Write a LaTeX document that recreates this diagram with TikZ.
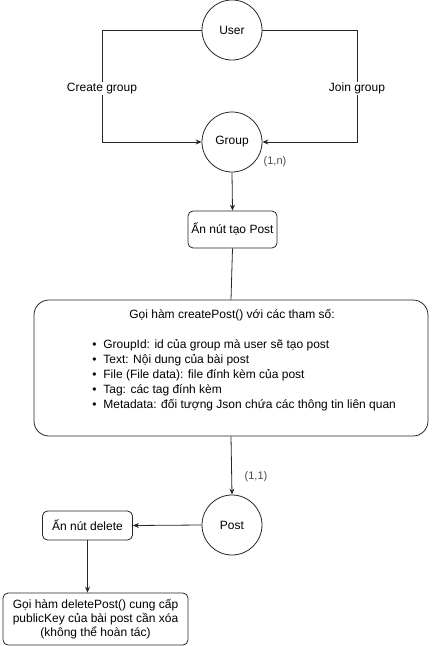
\documentclass[tikz,border=0pt]{standalone}
\usepackage{fontspec}
\setmainfont{Liberation Sans}
\usetikzlibrary{arrows.meta}
\begin{document}
\begin{tikzpicture}[x=1pt,y=-1pt,
  font=\fontsize{12}{14}\selectfont,
  line width=0.8pt, draw=black!85,
  ent/.style={circle,draw=black!85,minimum size=60pt,inner sep=0pt},
  act/.style={draw=black!85,rounded corners=5pt,align=center,inner sep=0pt},
  arr/.style={-{Stealth[length=6pt,width=5pt]}},
  lbl/.style={fill=white,inner sep=1pt},
  card/.style={text=black!70,font=\fontsize{11}{13}\selectfont,inner sep=0pt}]
\useasboundingbox (0,0) rectangle (432,646);
\node[ent] (user) at (232,30) {User};
\node[ent] (group) at (232,142) {Group};
\coordinate (ul) at (102,30);
\coordinate (ll) at (102,142);
\coordinate (ur) at (357,30);
\coordinate (lr) at (357,142);
\draw[arr] (user.west) -- (ul) -- node[lbl,pos=0.52]{Create group} (ll) -- (group.west);
\draw[arr] (user.east) -- (ur) -- node[lbl,pos=0.52]{Join group} (lr) -- (group.east);
\node[card] (c1) at (275,162) {(1,n)};
\node[act,minimum width=89pt,minimum height=37pt] (press) at (232.5,229.5) {Ấn nút tạo Post};
\draw[arr] (group.south) -- (press.north);
\node[draw=black!85,rounded corners=15pt,minimum width=394pt,minimum height=136pt,inner sep=0pt] (create) at (231,368) {};
\node (title) at (232,315) {Gọi hàm createPost() với các tham số:};
\node[anchor=north west,align=left,inner sep=0pt,font=\fontsize{12}{15}\selectfont] (list) at (90,339)
{\makebox[13pt][l]{\,•}GroupId: id của group mà user sẽ tạo post\\
\makebox[13pt][l]{\,•}Text: Nội dung của bài post\\
\makebox[13pt][l]{\,•}File (File data): file đính kèm của post\\
\makebox[13pt][l]{\,•}Tag: các tag đính kèm\\
\makebox[13pt][l]{\,•}Metadata: đối tượng Json chứa các thông tin liên quan};
\draw (press.south) -- (create.north);
\node[ent] (post) at (232,525) {Post};
\draw[arr] (create.south) -- (post.north);
\node[card] (c2) at (256,477) {(1,1)};
\node[act,minimum width=90pt,minimum height=29pt] (del) at (87.5,525.5) {Ấn nút delete};
\draw[arr] (post.west) -- (del.east);
\node[act,minimum width=185pt,minimum height=52pt] (delcall) at (95.5,619) {Gọi hàm deletePost() cung cấp\\publicKey của bài post cần xóa\\(không thể hoàn tác)};
\draw[arr] (del.south) -- (del.south |- delcall.north);
\end{tikzpicture}
\end{document}
